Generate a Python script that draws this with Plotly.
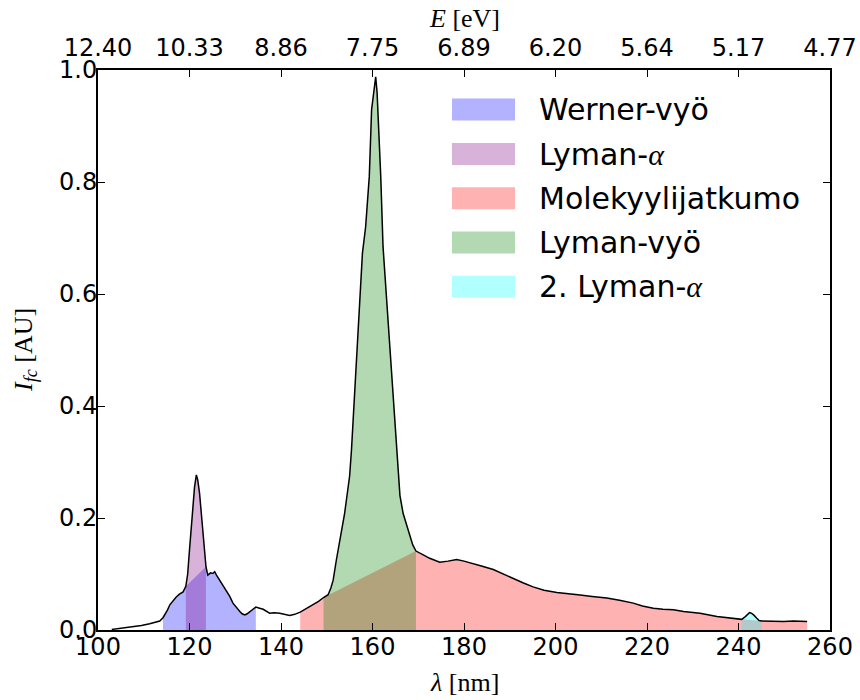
import numpy as np
import plotly.graph_objects as go

# ---- data ----
lam = [103.0, 104.0, 106.0, 107.6, 109.5, 111.3, 112.5, 113.5, 114.2, 114.6, 115.2, 115.7,
       116.4, 117.1, 117.8, 118.6, 119.2, 119.6, 120.0, 120.4, 120.7, 121.1, 121.5, 121.8,
       122.2, 122.6, 122.9, 123.3, 123.6, 124.0, 124.6, 125.1, 125.5, 125.9, 126.6, 127.3,
       128.1, 128.8, 129.5, 130.2, 131.0, 131.5, 132.1, 132.6, 133.2, 133.8, 134.5, 135.3,
       136.1, 137.5, 138.5, 139.7, 140.8, 141.9, 143.0, 144.2, 145.5, 147.0, 148.2, 149.3,
       150.3, 150.9, 151.4, 152.1, 152.8, 153.4, 153.9, 154.5, 155.0, 155.4, 156.0, 156.6,
       157.2, 157.8, 158.5, 159.0, 159.3, 159.8, 160.3, 160.7, 161.0, 161.2, 161.8, 162.3,
       163.1, 163.8, 164.5, 165.3, 166.0, 166.7, 167.5, 168.2, 168.8, 169.5, 170.3, 171.1,
       172.5, 174.7, 176.5, 178.4, 180.0, 182.0, 184.0, 186.4, 188.5, 190.8, 193.0, 195.1,
       197.5, 200.3, 203.0, 205.4, 208.0, 211.2, 214.0, 217.0, 219.0, 221.4, 223.5, 225.8,
       228.0, 231.6, 235.3, 238.0, 240.7, 241.5, 242.0, 242.4, 242.8, 243.3, 244.0, 244.5,
       245.1, 247.5, 249.9, 252.0, 254.6, 255.0]
intensity = [0.001, 0.002, 0.004, 0.006, 0.008, 0.011, 0.013, 0.016, 0.022, 0.027, 0.036, 0.045,
             0.053, 0.059, 0.064, 0.068, 0.078, 0.100, 0.143, 0.185, 0.214, 0.255, 0.277, 0.268,
             0.244, 0.205, 0.173, 0.135, 0.113, 0.098, 0.102, 0.101, 0.104, 0.098, 0.089, 0.080,
             0.071, 0.060, 0.048, 0.040, 0.033, 0.029, 0.027, 0.029, 0.033, 0.038, 0.041, 0.039,
             0.037, 0.030, 0.031, 0.030, 0.028, 0.026, 0.028, 0.032, 0.038, 0.045, 0.051, 0.058,
             0.063, 0.075, 0.089, 0.125, 0.161, 0.185, 0.208, 0.240, 0.275, 0.321, 0.411, 0.500,
             0.589, 0.673, 0.720, 0.770, 0.810, 0.929, 0.965, 0.988, 0.960, 0.929, 0.810, 0.685,
             0.589, 0.500, 0.411, 0.321, 0.240, 0.208, 0.185, 0.167, 0.152, 0.141, 0.137, 0.134,
             0.128, 0.121, 0.123, 0.126, 0.123, 0.119, 0.114, 0.108, 0.100, 0.092, 0.084, 0.077,
             0.071, 0.067, 0.064, 0.0625, 0.060, 0.057, 0.053, 0.048, 0.043, 0.039, 0.037, 0.036,
             0.033, 0.030, 0.024, 0.021, 0.019, 0.024, 0.028, 0.031, 0.030, 0.027, 0.021, 0.017,
             0.016, 0.015, 0.015, 0.016, 0.016, 0.015]

# band limits (nm)
werner_band = (114.2, 134.5)
lya_band = (119.2, 123.6)
cont_band = (144.2, 255.0)
lyman_band = (149.3, 169.5)
lya2_band = (240.7, 245.1)

band_names = ["Werner-vyö", "Lyman-α", "Molekyylijatkumo", "Lyman-vyö", "2. Lyman-α"]
band_labels = ["Werner-vyö",
               'Lyman-<span style="font-family:Liberation Serif"><i>α</i></span>',
               "Molekyylijatkumo",
               "Lyman-vyö",
               '2. Lyman-<span style="font-family:Liberation Serif"><i>α</i></span>']
band_colors = ["rgba(0,0,255,0.3)", "rgba(128,0,128,0.3)", "rgba(255,0,0,0.3)",
               "rgba(0,128,0,0.3)", "rgba(0,255,255,0.3)"]

x_ticks = [100, 120, 140, 160, 180, 200, 220, 240, 260]
e_labels = ["12.40", "10.33", "8.86", "7.75", "6.89", "6.20", "5.64", "5.17", "4.77"]
y_ticks = [0.0, 0.2, 0.4, 0.6, 0.8, 1.0]

# ---- build ----
L = np.array(lam)
I = np.array(intensity)

def inside(b, strict=False):
    if strict:
        return (L > b[0]) & (L < b[1])
    return (L >= b[0]) & (L <= b[1])

masks = [
    inside(werner_band) & ~inside(lya_band, strict=True),
    inside(lya_band),
    inside(cont_band) & ~inside(lyman_band, strict=True) & ~inside(lya2_band, strict=True),
    inside(lyman_band),
    inside(lya2_band),
]

fig = go.Figure()
for name, m, c in zip(band_names, masks, band_colors):
    fig.add_trace(go.Scatter(x=L[m], y=I[m], mode="lines", fill="tozeroy",
                             fillcolor=c, line=dict(width=0, color=c),
                             name=name, showlegend=False, hoverinfo="skip"))

fig.add_trace(go.Scatter(x=L, y=I, mode="lines", line=dict(color="black", width=1.5),
                         showlegend=False))
# invisible trace for the top (energy) axis
fig.add_trace(go.Scatter(x=L, y=I, mode="lines", xaxis="x2", opacity=0,
                         showlegend=False, hoverinfo="skip"))

# plot-area pixel geometry
PL, PR, PT, PB = 98, 830, 70, 630
W, H = 860, 700
def px(xp):
    return (xp - PL) / (PR - PL)
def py(yp):
    return (PB - yp) / (PB - PT)

tickfont = dict(family="DejaVu Sans", size=24, color="black")

fig.update_layout(
    width=W, height=H,
    margin=dict(l=PL, r=W - PR, t=PT, b=H - PB, autoexpand=False),
    paper_bgcolor="white", plot_bgcolor="white",
    showlegend=False,
    xaxis=dict(range=[100, 260], tickvals=x_ticks, ticks="inside", ticklen=7,
               tickwidth=1.2, tickcolor="black", showline=True, linecolor="black",
               linewidth=2, mirror="ticks", showgrid=False, zeroline=False,
               tickfont=tickfont, ticklabelstandoff=-6, automargin=False),
    xaxis2=dict(range=[100, 260], overlaying="x", side="top", tickvals=x_ticks,
                ticktext=e_labels, ticks="", showline=False, showgrid=False,
                zeroline=False, tickfont=tickfont, ticklabelstandoff=8, automargin=False),
    yaxis=dict(range=[0, 1.0], tickvals=y_ticks, tickformat=".1f", ticks="inside",
               ticklen=7, tickwidth=1.2, tickcolor="black", showline=True,
               linecolor="black", linewidth=2, mirror="ticks", showgrid=False,
               zeroline=False, tickfont=tickfont, ticklabelstandoff=-6, automargin=False),
)

serif = dict(family="Liberation Serif", size=26, color="black")
fig.add_annotation(text="<i>λ</i> [nm]", xref="paper", yref="paper", x=0.5, y=py(683),
                   xanchor="center", yanchor="middle", showarrow=False, font=serif)
fig.add_annotation(text="<i>E</i> [eV]", xref="paper", yref="paper", x=0.5, y=py(18),
                   xanchor="center", yanchor="middle", showarrow=False, font=serif)
fig.add_annotation(text="<i>I</i><sub><i>fc</i></sub> [AU]", xref="paper", yref="paper",
                   x=px(25), y=0.5, xanchor="center", yanchor="middle", textangle=-90,
                   showarrow=False, font=serif)

# legend (drawn manually to match the large patches)
row_y = [109.6, 154.0, 198.3, 242.4, 286.7]
for lab, c, ry in zip(band_labels, band_colors, row_y):
    fig.add_shape(type="rect", xref="paper", yref="paper", x0=px(452), x1=px(515),
                  y0=py(ry + 11), y1=py(ry - 11), fillcolor=c, line=dict(width=0))
    fig.add_annotation(text=lab, xref="paper", yref="paper", x=px(537), y=py(ry),
                       xanchor="left", yanchor="middle", showarrow=False,
                       font=dict(family="DejaVu Sans", size=30, color="black"))

fig.write_html("out.html")
